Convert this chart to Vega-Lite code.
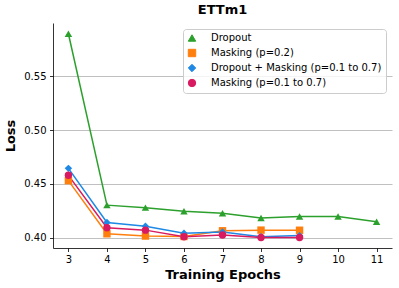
{
  "$schema": "https://vega.github.io/schema/vega-lite/v6.json",
  "width": 339,
  "height": 225,
  "autosize": {"type": "none"},
  "padding": {"left": 53, "top": 23, "right": 7, "bottom": 40},
  "background": "white",
  "config": {"font": "DejaVu Sans", "view": {"stroke": null}},
  "title": {"text": "ETTm1", "fontSize": 13, "fontWeight": "bold", "font": "DejaVu Sans", "offset": 6, "color": "black"},
  "data": {
    "values": [
      {"epoch": 3, "loss": 0.5895, "series": "Dropout"},
      {"epoch": 4, "loss": 0.4303, "series": "Dropout"},
      {"epoch": 5, "loss": 0.428, "series": "Dropout"},
      {"epoch": 6, "loss": 0.4247, "series": "Dropout"},
      {"epoch": 7, "loss": 0.4227, "series": "Dropout"},
      {"epoch": 8, "loss": 0.4183, "series": "Dropout"},
      {"epoch": 9, "loss": 0.4198, "series": "Dropout"},
      {"epoch": 10, "loss": 0.4198, "series": "Dropout"},
      {"epoch": 11, "loss": 0.4149, "series": "Dropout"},
      {"epoch": 3, "loss": 0.4531, "series": "Masking (p=0.2)"},
      {"epoch": 4, "loss": 0.4037, "series": "Masking (p=0.2)"},
      {"epoch": 5, "loss": 0.4016, "series": "Masking (p=0.2)"},
      {"epoch": 6, "loss": 0.4012, "series": "Masking (p=0.2)"},
      {"epoch": 7, "loss": 0.4065, "series": "Masking (p=0.2)"},
      {"epoch": 8, "loss": 0.4071, "series": "Masking (p=0.2)"},
      {"epoch": 9, "loss": 0.407, "series": "Masking (p=0.2)"},
      {"epoch": 3, "loss": 0.4645, "series": "Dropout + Masking (p=0.1 to 0.7)"},
      {"epoch": 4, "loss": 0.4142, "series": "Dropout + Masking (p=0.1 to 0.7)"},
      {"epoch": 5, "loss": 0.4108, "series": "Dropout + Masking (p=0.1 to 0.7)"},
      {"epoch": 6, "loss": 0.4043, "series": "Dropout + Masking (p=0.1 to 0.7)"},
      {"epoch": 7, "loss": 0.4053, "series": "Dropout + Masking (p=0.1 to 0.7)"},
      {"epoch": 8, "loss": 0.401, "series": "Dropout + Masking (p=0.1 to 0.7)"},
      {"epoch": 9, "loss": 0.402, "series": "Dropout + Masking (p=0.1 to 0.7)"},
      {"epoch": 3, "loss": 0.458, "series": "Masking (p=0.1 to 0.7)"},
      {"epoch": 4, "loss": 0.4093, "series": "Masking (p=0.1 to 0.7)"},
      {"epoch": 5, "loss": 0.4071, "series": "Masking (p=0.1 to 0.7)"},
      {"epoch": 6, "loss": 0.401, "series": "Masking (p=0.1 to 0.7)"},
      {"epoch": 7, "loss": 0.4025, "series": "Masking (p=0.1 to 0.7)"},
      {"epoch": 8, "loss": 0.4003, "series": "Masking (p=0.1 to 0.7)"},
      {"epoch": 9, "loss": 0.4003, "series": "Masking (p=0.1 to 0.7)"}
    ]
  },
  "mark": {"type": "line", "strokeWidth": 1.5, "point": {"filled": true, "size": 55, "opacity": 1}},
  "encoding": {
    "x": {
      "field": "epoch", "type": "quantitative",
      "scale": {"domain": [2.6, 11.4], "nice": false, "zero": false},
      "axis": {
        "values": [3, 4, 5, 6, 7, 8, 9, 10, 11], "format": "d", "grid": false,
        "title": "Training Epochs", "titleFontSize": 13, "titleFontWeight": "bold", "titleColor": "black", "titlePadding": 4,
        "labelFontSize": 10, "labelColor": "black", "labelPadding": 3, "labelFlush": false,
        "domainColor": "black", "domainWidth": 0.8, "tickColor": "black", "tickWidth": 0.8, "tickSize": 3.5
      }
    },
    "y": {
      "field": "loss", "type": "quantitative",
      "scale": {"domain": [0.3905, 0.5995], "nice": false, "zero": false},
      "axis": {
        "values": [0.40, 0.45, 0.50, 0.55], "format": ".2f", "grid": true, "gridColor": "#b0b0b0", "gridWidth": 0.8,
        "title": "Loss", "titleFontSize": 13, "titleFontWeight": "bold", "titleColor": "black", "titlePadding": 6,
        "labelFontSize": 10, "labelColor": "black", "labelPadding": 3.5, "labelFlush": false,
        "domainColor": "black", "domainWidth": 0.8, "tickColor": "black", "tickWidth": 0.8, "tickSize": 3.5
      }
    },
    "shape": {
      "field": "series", "type": "nominal",
      "scale": {
        "domain": ["Dropout", "Masking (p=0.2)", "Dropout + Masking (p=0.1 to 0.7)", "Masking (p=0.1 to 0.7)"],
        "range": ["triangle-up", "square", "diamond", "circle"]
      },
      "legend": null
    },
    "color": {
      "field": "series", "type": "nominal",
      "scale": {
        "domain": ["Dropout", "Masking (p=0.2)", "Dropout + Masking (p=0.1 to 0.7)", "Masking (p=0.1 to 0.7)"],
        "range": ["#2ca02c", "#ff7f0e", "#1e88e5", "#d81b60"]
      },
      "legend": {
        "title": null, "orient": "top-right", "offset": 6,
        "strokeColor": "#cccccc", "fillColor": "rgba(255,255,255,0.8)", "cornerRadius": 3, "padding": 4,
        "labelFontSize": 10, "labelColor": "black", "labelLimit": 300, "rowPadding": 3, "labelOffset": 14,
        "symbolSize": 55, "symbolStrokeWidth": 1
      }
    }
  }
}
